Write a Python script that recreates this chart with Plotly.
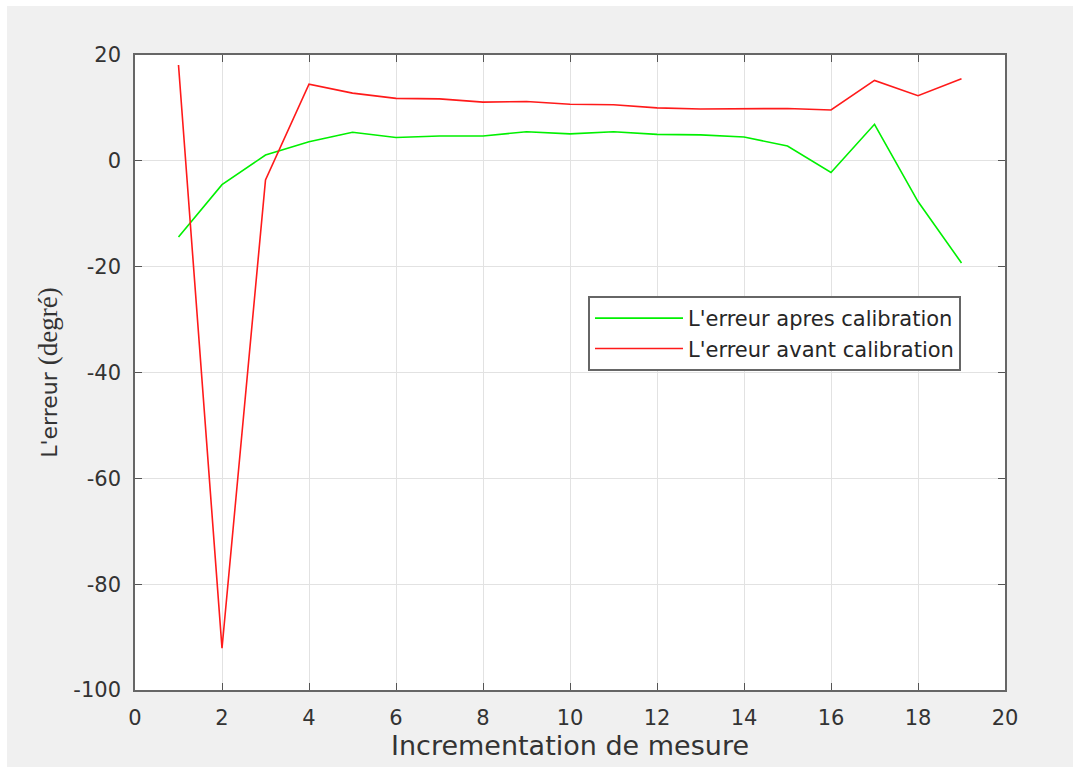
import plotly.graph_objects as go

x_vals = list(range(1, 20))
apres = [-14.4, -4.5, 1.1, 3.6, 5.4, 4.4, 4.7, 4.7, 5.5, 5.1, 5.5, 5.0, 4.9, 4.5, 2.8, -2.2, 6.9, -7.7, -19.3]
avant = [18.1, -92.1, -3.6, 14.5, 12.8, 11.8, 11.7, 11.1, 11.2, 10.7, 10.6, 10.0, 9.8, 9.8, 9.9, 9.6, 15.2, 12.3, 15.5]

x_ticks = list(range(0, 21, 2))
y_ticks = list(range(-100, 21, 20))
y_tick_text = [str(v) for v in y_ticks]

FONT = "DejaVu Sans, Liberation Sans, Arial"

fig = go.Figure()
fig.add_trace(go.Scatter(x=x_vals, y=apres, mode="lines", name="L'erreur apres calibration",
                         line=dict(color="#00f000", width=1.6)))
fig.add_trace(go.Scatter(x=x_vals, y=avant, mode="lines", name="L'erreur avant calibration",
                         line=dict(color="#ff1a1a", width=1.6)))

axis_common = dict(
    showline=True, linecolor="#666666", linewidth=1.6, mirror="ticks",
    ticks="inside", ticklen=7, tickcolor="#555555", tickwidth=1.2,
    showgrid=True, gridcolor="#e2e2e2", gridwidth=1, zeroline=False,
    tickfont=dict(family=FONT, size=21, color="#333333"),
)

fig.update_xaxes(range=[0, 20], tickvals=x_ticks, ticklabelstandoff=8, **axis_common,
                 title=dict(text="Incrementation de mesure",
                            font=dict(family=FONT, size=27, color="#333333"),
                            standoff=6))
fig.update_yaxes(range=[-100, 20], tickvals=y_ticks, ticktext=y_tick_text, ticklabelstandoff=8,
                 **axis_common,
                 title=dict(text="L'erreur <span style='font-family:Liberation Serif, Times New Roman;font-size:27px'>(degré)</span>",
                            font=dict(family=FONT, size=22, color="#333333"),
                            standoff=10))

# white strips at top and left edges of the window capture
fig.add_shape(type="rect", xref="paper", yref="paper",
              x0=(0 - 135) / 870, x1=(1073 - 135) / 870,
              y0=(690 - 6) / 635, y1=(690 - 0) / 635,
              line=dict(width=0), fillcolor="#ffffff", layer="below")
fig.add_shape(type="rect", xref="paper", yref="paper",
              x0=(0 - 135) / 870, x1=(7 - 135) / 870,
              y0=(690 - 767) / 635, y1=(690 - 0) / 635,
              line=dict(width=0), fillcolor="#ffffff", layer="below")

fig.update_layout(
    width=1073, height=767,
    margin=dict(l=135, r=68, t=55, b=77),
    paper_bgcolor="#f0f0f0", plot_bgcolor="#ffffff",
    showlegend=True,
    legend=dict(x=(588 - 135) / 870, y=(690 - 296) / 635, xanchor="left", yanchor="top",
                bgcolor="#ffffff", bordercolor="#666666", borderwidth=2,
                font=dict(family=FONT, size=21, color="#262626"),
                itemwidth=88, tracegroupgap=0),
)

fig.write_html("out.html")
